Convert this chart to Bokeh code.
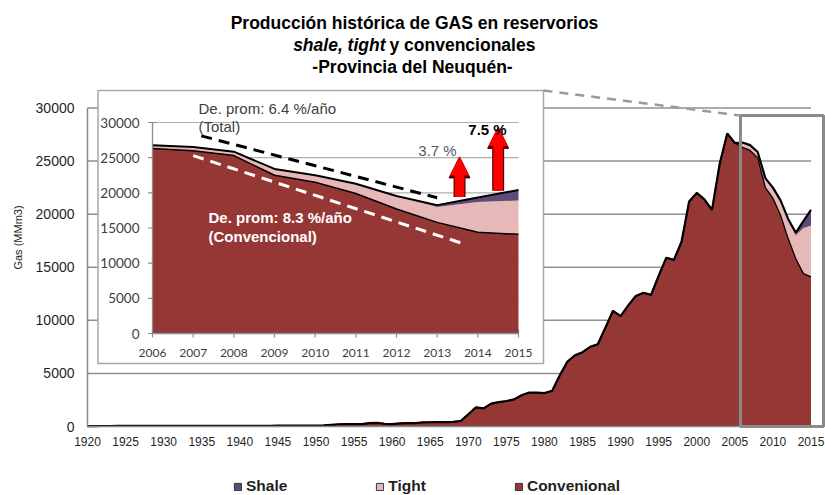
import numpy as np
from bokeh.plotting import figure
from bokeh.models import (Range1d, Label, Legend, LegendItem,
                          Arrow, NormalHead, ColumnDataSource)
from bokeh.core.properties import value
from bokeh.embed import file_html
from bokeh.resources import INLINE

# ---------------- data ----------------
YEARS = list(range(1920, 2016))
CONVENCIONAL = [
    40, 40, 45, 45, 50, 50, 55, 55, 60, 60,                        # 1920-1929
    60, 65, 65, 60, 55, 50, 50, 55, 60, 60,                        # 1930-1939
    65, 65, 70, 70, 70, 75, 75, 80, 80, 85,                        # 1940-1949
    90, 110, 160, 210, 220, 220, 230, 320, 350, 260,               # 1950-1959
    230, 290, 310, 320, 380, 400, 410, 420, 430, 520,              # 1960-1969
    1150, 1800, 1700, 2150, 2300, 2400, 2550, 2950, 3200, 3200,    # 1970-1979
    3150, 3350, 4800, 6100, 6700, 7000, 7500, 7750, 9300, 10900,   # 1980-1989
    10400, 11400, 12300, 12600, 12400, 14200, 15900, 15700, 17400, 21200,  # 1990-1999
    22000, 21400, 20400, 24700, 27600, 26700, 26300, 26000, 25300, 22500,  # 2000-2009
    21500, 19900, 17700, 15800, 14400, 14100,                      # 2010-2015
]
TIGHT_YEARS = [2006, 2007, 2008, 2009, 2010, 2011, 2012, 2013, 2014, 2015]
TIGHT_VALUES = [450, 500, 550, 900, 1000, 1400, 1800, 2200, 4300, 4800]
SHALE_YEARS = [2012, 2013, 2014, 2015]
SHALE_VALUES = [50, 250, 650, 1500]

Y_TICKS = [0, 5000, 10000, 15000, 20000, 25000, 30000]
X_TICKS = [1920, 1925, 1930, 1935, 1940, 1945, 1950, 1955, 1960, 1965,
           1970, 1975, 1980, 1985, 1990, 1995, 2000, 2005, 2010, 2015]
INSET_START = 2006

# trend lines of the inset (year, value)
TREND_TOTAL_X = [2007.2, 2013.0]
TREND_TOTAL_Y = [28100, 19300]
TREND_CONV_X = [2007.0, 2013.6]
TREND_CONV_Y = [25300, 12850]
# growth arrows of the inset
ARROW_X = [2013.55, 2014.5]
ARROW_FROM = [19400, 20300]
ARROW_TO = [25100, 29300]

# build table
conv = np.array(CONVENCIONAL, dtype=float)
tight = np.zeros(len(YEARS))
for yv, v in zip(TIGHT_YEARS, TIGHT_VALUES):
    tight[YEARS.index(yv)] = v
shale = np.zeros(len(YEARS))
for yv, v in zip(SHALE_YEARS, SHALE_VALUES):
    shale[YEARS.index(yv)] = v
ct = conv + tight
total = ct + shale
yrs = np.array(YEARS, dtype=float)
sel = yrs >= INSET_START

# ---------------- layout constants (page pixels) ----------------
W, H = 825, 495
MX0, MX1 = 87.0, 810.5     # px of 1920 / 2015
MY0, MY1 = 426.0, 107.5    # px of 0 / 30000
IX0, IX1 = 152.0, 518.0    # inset px of 2006 / 2015
IY0, IY1 = 333.0, 122.0    # inset px of 0 / 30000


def mx(px): return 1920 + (px - MX0) * 95 / (MX1 - MX0)
def my(py): return (MY0 - py) * 30000 / (MY0 - MY1)
def ix(px): return 2006 + (px - IX0) * 9 / (IX1 - IX0)
def iy(py): return (IY0 - py) * 30000 / (IY0 - IY1)
def sx(px): return px
def sy(py): return H - py


CONV_C = "#953735"
TIGHT_C = "#E6B9B8"
SHALE_C = "#604A7B"
GRID_C = "#8f8f8f"
AX_C = "#8a8a8a"

p = figure(width=W, height=H, output_backend="svg", toolbar_location=None,
           x_range=Range1d(mx(0), mx(W)), y_range=Range1d(my(H), my(0)),
           x_axis_type=None, y_axis_type=None,
           min_border=0, min_border_left=0, min_border_right=0,
           min_border_top=0, min_border_bottom=0)
p.title.visible = False
p.extra_x_ranges = {"ix": Range1d(ix(0), ix(W))}
p.extra_y_ranges = {"iy": Range1d(iy(H), iy(0))}
p.outline_line_color = None
p.xgrid.visible = False
p.ygrid.visible = False
p.background_fill_color = "white"
p.border_fill_color = "white"

# main grid
gy = Y_TICKS[1:]
p.segment(x0=[1920] * len(gy), x1=[2015] * len(gy), y0=gy, y1=gy,
          line_color=GRID_C, line_width=1.5)

# main stacked areas
p.varea(x=yrs, y1=np.zeros(len(yrs)), y2=conv, fill_color=CONV_C)
p.varea(x=yrs, y1=conv, y2=ct, fill_color=TIGHT_C)
p.varea(x=yrs, y1=ct, y2=total, fill_color=SHALE_C)
p.line(yrs, conv, line_color="black", line_width=1.3)
p.line(yrs, total, line_color="black", line_width=2.2)

# main axes (lines + tick labels through the data scales)
p.line([1920, 2015], [0, 0], line_color=AX_C, line_width=1.5)
p.line([1920, 1920], [0, 30000], line_color=AX_C, line_width=1.5)
p.text(x=X_TICKS, y=[0] * len(X_TICKS), text=[str(v) for v in X_TICKS],
       y_offset=15, text_align="center", text_baseline="middle",
       text_font=value("Liberation Sans"), text_font_size="12px",
       text_color="#1f1f1f")
p.text(x=[1920] * len(Y_TICKS), y=Y_TICKS, text=[str(v) for v in Y_TICKS],
       x_offset=-13, text_align="right", text_baseline="middle",
       text_font=value("Liberation Sans"), text_font_size="14px",
       text_color="#1f1f1f")

# highlight box of the zoomed period
p.quad(left=[mx(740)], right=[mx(823)], bottom=[0], top=[my(115)],
       fill_color=None, line_color="#8a8a8a", line_width=3)
# connector
p.line([mx(543), mx(740)], [my(90), my(115)], line_color="#9a9a9a",
       line_width=2.5, line_dash="9 7")

# inset frame
p.quad(left=[mx(97.5)], right=[mx(543)], bottom=[my(363)], top=[my(90)],
       fill_color="white", line_color="#a6a6a6", line_width=1.5)

R = dict(x_range_name="ix", y_range_name="iy")
iyrs = yrs[sel]
p.segment(x0=[2006] * len(gy), x1=[2015] * len(gy), y0=gy, y1=gy,
          line_color="#b0b0b0", line_width=1.2, **R)
# inset ticks
p.scatter(x=[2006] * len(Y_TICKS), y=Y_TICKS, marker="dash", size=9,
          line_color="#8c8c8c", line_width=1.2, **R)
p.scatter(x=iyrs, y=np.zeros(len(iyrs)), marker="dash", size=8, angle=np.pi / 2,
          line_color="#8c8c8c", line_width=1.2, **R)
# inset areas
p.varea(x=iyrs, y1=np.zeros(len(iyrs)), y2=conv[sel], fill_color=CONV_C, **R)
p.varea(x=iyrs, y1=conv[sel], y2=ct[sel], fill_color=TIGHT_C, **R)
p.varea(x=iyrs, y1=ct[sel], y2=total[sel], fill_color=SHALE_C, **R)
p.line(iyrs, conv[sel], line_color="black", line_width=1.5, **R)
p.line(iyrs, total[sel], line_color="black", line_width=2, **R)
# inset axis lines
p.line([2006, 2006], [0, 30000], line_color="#8c8c8c", line_width=1.3, **R)
p.line([2006, 2015], [0, 0], line_color="#8c8c8c", line_width=1.3, **R)
# inset tick labels
p.text(x=iyrs, y=np.zeros(len(iyrs)), text=[str(int(v)) for v in iyrs],
       y_offset=19, text_align="center", text_baseline="middle",
       text_font=value("Lato"), text_font_size="12px", text_color="#404040", **R)
p.text(x=[2006] * len(Y_TICKS), y=Y_TICKS, text=[str(v) for v in Y_TICKS],
       x_offset=-13, text_align="right", text_baseline="middle",
       text_font=value("Lato"), text_font_size="13.5px", text_color="#404040", **R)

# trend lines
p.line(TREND_TOTAL_X, TREND_TOTAL_Y, line_color="black", line_width=3,
       line_dash="11 7", **R)
p.line(TREND_CONV_X, TREND_CONV_Y, line_color="white", line_width=3,
       line_dash="11 7", **R)

# arrows
asrc = ColumnDataSource(dict(x=ARROW_X, y0=ARROW_FROM, y1=ARROW_TO))
for lw, hs, col in [(12, 21, "#5a0000"), (9.5, 18, "#ff0000")]:
    p.add_layout(Arrow(x_start="x", y_start="y0", x_end="x", y_end="y1", source=asrc,
                       line_color=col, line_width=lw,
                       end=NormalHead(size=hs, fill_color=col, line_color=col, line_width=1),
                       **R))


def lab(text, px, py, align="left", size="15px", color="#404040", style="normal",
        font="Liberation Sans", angle=0.0):
    p.add_layout(Label(x=sx(px), y=sy(py), x_units="screen", y_units="screen",
                       text=text, text_align=align, text_baseline="middle",
                       text_font=font, text_font_size=size, text_color=color,
                       text_font_style=style, angle=angle))


# inset annotations
lab("De. prom: 6.4 %/año", 198, 108)
lab("(Total)", 198, 126)
lab("De. prom: 8.3 %/año", 208, 217, color="white", style="bold")
lab("(Convencional)", 208, 236, color="white", style="bold")
lab("3.7 %", 437, 150, align="center", color="#595959")
lab("7.5 %", 487, 129, align="center", color="black", style="bold")

# titles
lab("Producción histórica de GAS en reservorios", 414, 22, align="center",
    size="17.5px", color="black", style="bold")
lab("shale, tight", 385, 44, align="right", size="17.5px", color="black",
    style="bold italic")
lab("y convencionales", 389, 44, align="left", size="17.5px", color="black",
    style="bold")
lab("-Provincia del Neuquén-", 412, 66, align="center", size="17.5px",
    color="black", style="bold")

# y axis title
lab("Gas (MMm3)", 17, 237, align="center", size="11px", color="#1f1f1f",
    angle=np.pi / 2)

# legend swatches: zero-size quads sitting on the axis origin (invisible)
sw = dict(left=[1920], right=[1920], top=[0], bottom=[0])
r_sh = p.quad(**sw, fill_color=SHALE_C, line_color="#333333", line_width=1)
r_ti = p.quad(**sw, fill_color=TIGHT_C, line_color="#333333", line_width=1)
r_co = p.quad(**sw, fill_color=CONV_C, line_color="#333333", line_width=1)
legend = Legend(items=[LegendItem(label="Shale", renderers=[r_sh]),
                       LegendItem(label="Tight", renderers=[r_ti]),
                       LegendItem(label="Convenional", renderers=[r_co])],
                orientation="horizontal", location=(233, 0),
                spacing=88, glyph_width=9, glyph_height=9, label_standoff=4,
                padding=0, margin=0, border_line_color=None,
                background_fill_alpha=0, label_height=16,
                label_text_font="Liberation Sans", label_text_font_style="bold",
                label_text_font_size="15.5px", label_text_color="#1f1f1f")
p.add_layout(legend)

open("out.html", "w").write(file_html(p, INLINE))
